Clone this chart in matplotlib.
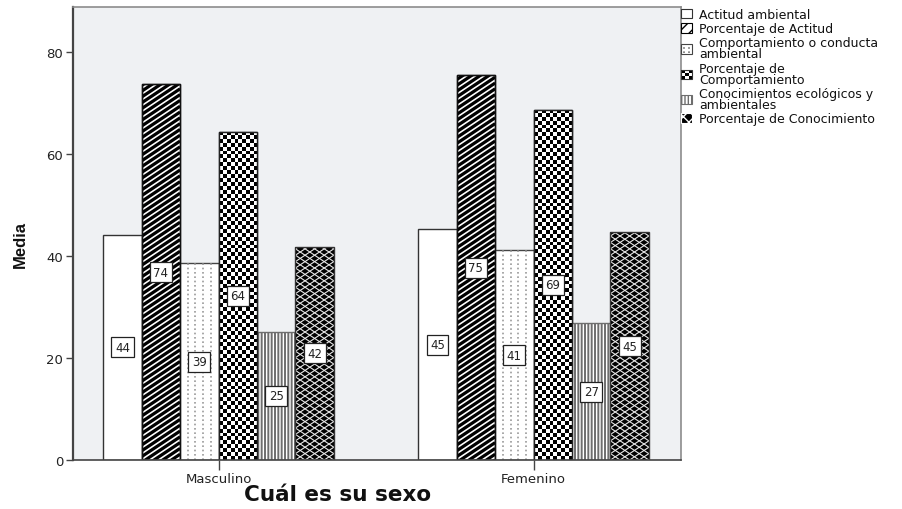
import numpy as np
import matplotlib
matplotlib.use("Agg")
import matplotlib.pyplot as plt
from matplotlib.patches import Rectangle, Patch
from matplotlib.lines import Line2D
from matplotlib.collections import LineCollection
from matplotlib.legend_handler import HandlerBase

# ---- data -------------------------------------------------------------
categories = ["Masculino", "Femenino"]
series_labels = [
    "Actitud ambiental",
    "Porcentaje de Actitud",
    "Comportamiento o conducta\nambiental",
    "Porcentaje de\nComportamiento",
    "Conocimientos ecológicos y\nambientales",
    "Porcentaje de Conocimiento",
]
actitud = [44.2, 45.2]
pct_actitud = [73.7, 75.4]
comportamiento = [38.6, 41.1]
pct_comportamiento = [64.3, 68.7]
conocimientos = [25.1, 26.8]
pct_conocimiento = [41.8, 44.6]
y_ticks = [0, 20, 40, 60, 80]
x_title = "Cuál es su sexo"
y_title = "Media"

series = [actitud, pct_actitud, comportamiento,
          pct_comportamiento, conocimientos, pct_conocimiento]

# ---- figure -----------------------------------------------------------
W, H = 902, 510
fig = plt.figure(figsize=(W / 100, H / 100), dpi=100)
ax = fig.add_axes([73 / W, 49 / H, 608 / W, 453 / H])
ax.set_facecolor("#eff1f3")
XLIM = (-0.462, 1.468)
YLIM = (0, 88.8)
ax.set_xlim(*XLIM)
ax.set_ylim(*YLIM)

bar_w = 0.122
x = np.arange(len(categories))
offsets = (np.arange(len(series)) - 2.5) * bar_w

p0 = ax.transData.transform((0, 0))
p1 = ax.transData.transform((1, 1))
ppx, ppy = abs(p1[0] - p0[0]), abs(p1[1] - p0[1])   # pixels per data unit


def set_hlw(patch, lw):
    if hasattr(patch, "set_hatch_linewidth"):
        patch.set_hatch_linewidth(lw)


def slanted_segments(x0, x1, y0, y1, slope_px, step_px):
    """Parallel line segments covering a rectangle, given slope and spacing in pixels."""
    s = slope_px * ppx / ppy
    step = step_px / ppy
    w = x1 - x0
    lo = min(y0, y0 - s * w)
    hi = max(y1, y1 - s * w)
    cs = np.arange(lo, hi + step, step)
    return [[(x0, c), (x1, c + s * w)] for c in cs]


def fill_lines(bar, segs, color, lw, z):
    lc = LineCollection(segs, colors=color, linewidths=lw, zorder=z,
                        capstyle="butt")
    ax.add_collection(lc, autolim=False)
    lc.set_clip_path(bar)


for k, vals in enumerate(series):
    xs = x + offsets[k]
    if k == 0:
        ax.bar(xs, vals, bar_w, color="white", edgecolor="#333333", linewidth=1.0, zorder=2)
    elif k == 1:
        bars = ax.bar(xs, vals, bar_w, color="white", edgecolor="#111111", linewidth=1.0, zorder=2)
        for b, xc, v in zip(bars, xs, vals):
            segs = slanted_segments(xc - bar_w / 2, xc + bar_w / 2, 0, v, 1 / 1.5, 5.8)
            fill_lines(b, segs, "black", 2.3, 2.1)
        ax.bar(xs, vals, bar_w, fill=False, edgecolor="#111111", linewidth=1.0, zorder=2.2)
    elif k == 2:
        bars = ax.bar(xs, vals, bar_w, color="white", edgecolor="#444444", linewidth=1.0, zorder=2)
        for b, xc, v in zip(bars, xs, vals):
            lx = xc + np.array([-0.3, -0.1, 0.1, 0.3]) * bar_w
            ln = ax.vlines(lx, 0, v, colors="#9a9a9a", linestyles=(0, (1, 1.6)),
                           linewidth=1.2, zorder=2.1)
            ln.set_clip_path(b)
    elif k == 3:
        bars = ax.bar(xs, vals, bar_w, color="white", edgecolor="#222222", linewidth=1.0, zorder=2)
        cell = 3.9
        for b, xc, v in zip(bars, xs, vals):
            ncol = int(round(bar_w * ppx / cell))
            nrow = int(round(v * ppy / cell))
            board = np.indices((nrow, ncol)).sum(axis=0) % 2
            im = ax.imshow(board, cmap="gray", vmin=0, vmax=1, aspect="auto",
                           interpolation="nearest",
                           extent=(xc - bar_w / 2, xc + bar_w / 2, 0, v), zorder=2.1)
            im.set_clip_path(b)
        ax.bar(xs, vals, bar_w, fill=False, edgecolor="#222222", linewidth=1.0, zorder=2.2)
    elif k == 4:
        plt.rcParams["hatch.linewidth"] = 1.4
        bars = ax.bar(xs, vals, bar_w, color="white", edgecolor="#6e6e6e", hatch="|||||",
                      linewidth=1.0, zorder=2)
        for b in bars:
            set_hlw(b, 1.4)
    else:
        bars = ax.bar(xs, vals, bar_w, color="black", edgecolor="none", linewidth=0, zorder=2)
        for b, xc, v in zip(bars, xs, vals):
            for sl in (1 / 1.5, -1 / 1.5):
                segs = slanted_segments(xc - bar_w / 2, xc + bar_w / 2, 0, v, sl, 6.4)
                fill_lines(b, segs, "#e8e8e8", 0.8, 2.1)
        ax.bar(xs, vals, bar_w, fill=False, edgecolor="#333333", linewidth=1.0, zorder=2.2)

    for xc, v in zip(xs, vals):
        ax.text(xc, v / 2, f"{v:.0f}", ha="center", va="center", fontsize=8.5,
                color="#222222", zorder=5,
                bbox=dict(boxstyle="square,pad=0.3", fc="white", ec="#222222", lw=0.9))

ax.set_xlim(*XLIM)
ax.set_ylim(*YLIM)

# ---- axes styling ------------------------------------------------------
ax.set_xticks(x)
ax.set_xticklabels(categories)
ax.set_yticks(y_ticks)
ax.tick_params(axis="x", length=7, width=1, color="#444444", labelsize=9.5,
               labelcolor="#222222", pad=2)
ax.tick_params(axis="y", length=5, width=1, color="#444444", labelsize=9.5,
               labelcolor="#222222", pad=2)
for side in ("top", "right"):
    ax.spines[side].set_color("#8c8c8c")
    ax.spines[side].set_linewidth(1.2)
ax.spines["left"].set_color("#444444")
ax.spines["left"].set_linewidth(1.6)
ax.spines["bottom"].set_color("#444444")
ax.spines["bottom"].set_linewidth(1.2)

fig.text(20 / W, 1 - 245 / H, y_title, rotation=90, ha="center", va="center",
         fontsize=12, fontweight="bold", family="Liberation Sans", color="#111111")
fig.text(338 / W, 1 - 495 / H, x_title, ha="center", va="center",
         fontsize=15.5, fontweight="bold", color="#111111")


# ---- legend ------------------------------------------------------------
class CheckerHandler(HandlerBase):
    def create_artists(self, legend, orig_handle, xdescent, ydescent,
                       width, height, fontsize, trans):
        x0, y0 = -xdescent, -ydescent
        arts = [Rectangle((x0, y0), width, height, fc="white", ec="none", transform=trans)]
        n = 3
        cw, ch = width / n, height / n
        for i in range(n):
            for j in range(n):
                if (i + j) % 2 == 0:
                    arts.append(Rectangle((x0 + j * cw, y0 + i * ch), cw, ch,
                                          fc="black", ec="none", transform=trans))
        arts.append(Rectangle((x0, y0), width, height, fill=False, ec="#333333",
                              lw=0.8, transform=trans))
        return arts


class DottedHandler(HandlerBase):
    def create_artists(self, legend, orig_handle, xdescent, ydescent,
                       width, height, fontsize, trans):
        x0, y0 = -xdescent, -ydescent
        arts = [Rectangle((x0, y0), width, height, fc="white", ec="#444444",
                          lw=0.8, transform=trans)]
        for f in (0.3, 0.7):
            arts.append(Line2D([x0 + f * width] * 2, [y0 + 1, y0 + height - 1],
                               color="#777777", lw=1.2, ls=(0, (1, 1.5)), transform=trans))
        return arts


class CheckerKey:
    pass


class DottedKey:
    pass


plt.rcParams["hatch.linewidth"] = 2.0
h1 = Patch(fc="white", ec="black", hatch="///", lw=0.8)
set_hlw(h1, 2.0)
plt.rcParams["hatch.linewidth"] = 1.2
h4 = Patch(fc="white", ec="#6e6e6e", hatch="|||||", lw=0.8)
set_hlw(h4, 1.2)
plt.rcParams["hatch.linewidth"] = 1.0
h5 = Patch(fc="black", ec="white", hatch="xxx", lw=0.8)
set_hlw(h5, 1.0)
handles = [Patch(fc="white", ec="#333333", lw=0.8), h1, DottedKey(), CheckerKey(), h4, h5]

leg = fig.legend(handles, series_labels, loc="upper left",
                 bbox_to_anchor=(681 / W, 1 - 9 / H), frameon=False,
                 fontsize=9, handlelength=0.9, handleheight=0.8,
                 handletextpad=0.55, labelspacing=0.1, borderpad=0,
                 borderaxespad=0,
                 handler_map={CheckerKey: CheckerHandler(), DottedKey: DottedHandler()})
for t in leg.get_texts():
    t.set_linespacing(0.8)
    t.set_color("#111111")

fig.savefig("out.png", dpi=100, facecolor="white")
